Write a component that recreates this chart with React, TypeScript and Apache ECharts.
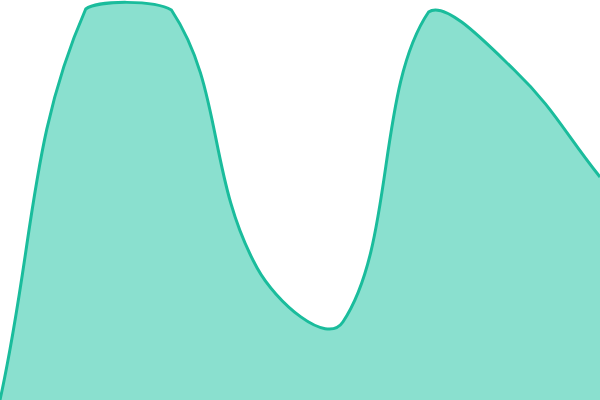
import React from 'react';
import * as echarts from 'echarts';

const categories = [0, 1, 2, 3, 4, 5, 6, 7];
const values = [0, 97.75, 97.5, 33, 19.5, 97, 82.5, 55.75];

const TENSION = 0.4;

// tension spline control points, kept inside the plot area
const controlPoints = (pts: number[][], box: number[]) => {
  const [x0, y0, x1, y1] = box;
  const cap = (p: number[]) => [
    Math.min(Math.max(p[0], x0), x1),
    Math.min(Math.max(p[1], y0), y1),
  ];
  return pts.map((cur, i) => {
    const prev = i > 0 ? pts[i - 1] : cur;
    const next = i < pts.length - 1 ? pts[i + 1] : cur;
    const d01 = Math.hypot(cur[0] - prev[0], cur[1] - prev[1]);
    const d12 = Math.hypot(next[0] - cur[0], next[1] - cur[1]);
    let s01 = d01 / (d01 + d12);
    let s12 = d12 / (d01 + d12);
    if (isNaN(s01)) s01 = 0;
    if (isNaN(s12)) s12 = 0;
    const fa = TENSION * s01;
    const fb = TENSION * s12;
    return {
      before: cap([cur[0] - fa * (next[0] - prev[0]), cur[1] - fa * (next[1] - prev[1])]),
      after: cap([cur[0] + fb * (next[0] - prev[0]), cur[1] + fb * (next[1] - prev[1])]),
    };
  });
};

const App = () => {
  const chartRef = React.useRef<HTMLDivElement>(null);

  React.useEffect(() => {
    const myChart = echarts.init(chartRef.current, null, { renderer: 'svg' });
    myChart.setOption({
      animation: false,
      grid: { left: 0, right: 0, top: 0, bottom: 0 },
      xAxis: { type: 'value', min: 0, max: categories.length - 1, show: false },
      yAxis: { type: 'value', min: 0, max: 100, show: false },
      series: [
        {
          type: 'custom',
          data: categories.map((c, i) => [c, values[i]]),
          renderItem: (params: any, api: any) => {
            if (params.dataIndex !== 0) return null;
            const pts = categories.map((c, i) => api.coord([c, values[i]]));
            const topLeft = api.coord([0, 100]);
            const bottomRight = api.coord([categories.length - 1, 0]);
            const cps = controlPoints(pts, [topLeft[0], topLeft[1], bottomRight[0], bottomRight[1]]);
            let line = `M${pts[0][0]},${pts[0][1]}`;
            for (let i = 0; i < pts.length - 1; i++) {
              const a = cps[i].after;
              const b = cps[i + 1].before;
              const p = pts[i + 1];
              line += ` C${a[0]},${a[1]} ${b[0]},${b[1]} ${p[0]},${p[1]}`;
            }
            const base = bottomRight[1];
            const last = pts[pts.length - 1];
            const area = `${line} L${last[0]},${base} L${pts[0][0]},${base} Z`;
            return {
              type: 'group',
              children: [
                {
                  type: 'path',
                  shape: { pathData: area },
                  style: { fill: '#8ae0cf', stroke: 'none' },
                },
                {
                  type: 'path',
                  shape: { pathData: line },
                  style: { fill: 'none', stroke: '#1abc9c', lineWidth: 3 },
                },
              ],
            };
          },
        },
      ],
    });

    return () => {
      myChart.dispose();
    };
  }, []);

  return (
    <div
      ref={chartRef}
      style={{ position: 'absolute', left: 0, top: 0, width: '600px', height: '400px' }}
    />
  );
};

export default App;
